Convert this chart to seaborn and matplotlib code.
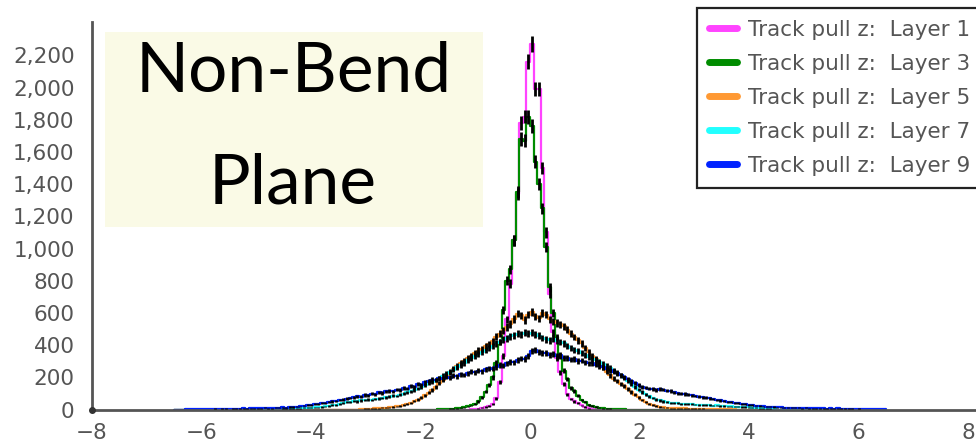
import numpy as np
import pandas as pd
import matplotlib
matplotlib.use("Agg")
import matplotlib.pyplot as plt
import seaborn as sns
from matplotlib.ticker import StrMethodFormatter
from matplotlib.patches import Rectangle
from matplotlib.lines import Line2D

# Common binning for every layer: 200 bins over [-6.5, 6.5]
BIN_LOW, BIN_HIGH, N_BINS = -6.5, 6.5, 200

LAYERS = ["Layer 1", "Layer 3", "Layer 5", "Layer 7", "Layer 9"]
COLORS = ["#ff44ff", "#008c00", "#ff9933", "#22ffff", "#0022ff"]

# Index of the first filled bin of each layer
FIRST_BIN = [83, 74, 52, 30, 3]

layer1_counts = [
    2, 3, 6, 10, 15, 22, 35, 70, 170, 330,
    560, 780, 1050, 1340, 1780, 1820, 2160, 2270, 1990, 1990,
    1500, 1100, 720, 480, 320, 230, 160, 95, 65, 50,
    38, 25, 15, 8, 3,
]

layer3_counts = [
    2, 3, 4, 5, 6, 8, 10, 14, 20, 25,
    35, 50, 75, 110, 150, 200, 290, 420, 620, 800,
    870, 1050, 1350, 1680, 1670, 1815, 1760, 1540, 1400, 1250,
    1010, 760, 600, 450, 330, 240, 190, 135, 115, 85,
    60, 45, 30, 22, 15, 10, 8, 6, 5, 4,
    3, 3, 2,
]

layer5_counts = [
    4, 5, 6, 6, 8, 9, 11, 12,
    14, 16, 19, 22, 28, 34, 42, 52, 62, 74,
    88, 104, 120, 140, 162, 186, 210, 232, 252, 270,
    290, 304, 320, 334, 350, 366, 378, 392, 408, 424,
    452, 470, 492, 512, 530, 562, 596, 584, 556, 590,
    604, 578, 566, 598, 590, 560, 548, 536, 528, 516,
    496, 472, 450, 430, 410, 380, 356, 334, 312, 290,
    262, 236, 212, 192, 176, 160, 144, 126, 108, 92,
    76, 60, 46, 36, 28, 22, 16, 13, 11, 9,
    8, 8, 7, 7, 6, 6, 5, 5, 5, 4,
    4, 4, 3, 3, 3, 2, 2, 2,
]

layer7_counts = [
    5, 6, 5, 7, 8, 8, 10, 11, 12, 14,
    14, 16, 20, 22, 26, 30, 34, 40, 44, 48,
    52, 50, 56, 58, 62, 60, 66, 68, 72, 76,
    80, 86, 84, 92, 98, 106, 112, 120, 130, 140,
    150, 162, 170, 184, 196, 210, 222, 236, 248, 262,
    276, 290, 306, 318, 332, 346, 356, 372, 384, 396,
    410, 420, 434, 442, 454, 460, 470, 466, 478, 472,
    476, 466, 458, 444, 436, 430, 440, 428, 418, 410,
    396, 384, 370, 362, 348, 336, 326, 316, 306, 296,
    284, 270, 258, 244, 228, 212, 196, 178, 158, 140,
    124, 108, 94, 82, 72, 62, 56, 50, 46, 42,
    40, 38, 36, 37, 34, 33, 31, 30, 29, 28,
    26, 24, 25, 22, 21, 20, 19, 18, 17, 16,
    15, 13, 12, 10, 9, 8, 6, 5, 4,
]

layer9_counts = [
    3, 2, 3, 4, 3, 2, 4,
    4, 5, 3, 5, 6, 4, 5, 6, 5, 7,
    6, 8, 7, 9, 8, 10, 7, 9, 11, 10,
    14, 12, 16, 15, 18, 20, 24, 26, 30, 34,
    37, 40, 42, 46, 50, 54, 58, 62, 68, 72,
    76, 82, 80, 90, 88, 98, 94, 106, 102, 112,
    116, 112, 124, 120, 134, 130, 144, 140, 156, 152,
    168, 176, 186, 182, 194, 190, 204, 198, 210, 206,
    218, 214, 226, 234, 230, 242, 238, 250, 256, 252,
    264, 276, 272, 286, 296, 292, 308, 316, 312, 330,
    362, 370, 358, 350, 352, 340, 345, 332, 336, 322,
    318, 310, 312, 300, 304, 292, 286, 290, 278, 270,
    262, 252, 244, 234, 224, 214, 202, 190, 178, 164,
    150, 142, 136, 130, 126, 122, 128, 124, 118, 116,
    106, 100, 98, 96, 92, 88, 84, 80, 76, 74,
    70, 64, 60, 56, 52, 48, 45, 42, 38, 35,
    32, 28, 26, 24, 22, 20, 18, 17, 15, 14,
    13, 12, 12, 11, 10, 11, 9, 10, 9, 8,
    8, 7, 8, 6, 7, 6, 7, 5, 6, 5,
    5, 4, 5, 4, 3, 4, 3, 3, 2, 3,
]

COUNTS = [layer1_counts, layer3_counts, layer5_counts, layer7_counts, layer9_counts]

X_TICKS = [-8, -6, -4, -2, 0, 2, 4, 6, 8]
Y_TICKS = [0, 200, 400, 600, 800, 1000, 1200, 1400, 1600, 1800, 2000, 2200]

# ---------------------------------------------------------------------------
edges = np.linspace(BIN_LOW, BIN_HIGH, N_BINS + 1)
centers = 0.5 * (edges[:-1] + edges[1:])

frames = []
for name, first, counts in zip(LAYERS, FIRST_BIN, COUNTS):
    idx = np.arange(first, first + len(counts))
    frames.append(pd.DataFrame({"layer": name, "pull": centers[idx],
                                "count": np.asarray(counts, float)}))
df = pd.concat(frames, ignore_index=True)

sns.set_theme(style="white")
plt.rcParams["font.family"] = ["DejaVu Sans"]

W, H = 976, 446
fig = plt.figure(figsize=(W / 100, H / 100), dpi=100)
ax = fig.add_axes([92 / W, 1 - 409.5 / H, (W - 92) / W, (409.5 - 22) / H])

for name, color in zip(LAYERS, COLORS):
    sub = df[df["layer"] == name]
    sns.histplot(data=sub, x="pull", weights="count", bins=N_BINS,
                 binrange=(BIN_LOW, BIN_HIGH), element="step", fill=False,
                 color=color, linewidth=1.6, ax=ax)
    ax.errorbar(sub["pull"], sub["count"], yerr=np.sqrt(sub["count"]),
                fmt="none", ecolor="black", elinewidth=2.0, capsize=0,
                zorder=3)

x_min, x_max = -8, 8 + 8 / 54.75
ax.set_xlim(x_min, x_max)
ax.set_ylim(0, 2407)
ax.set_xticks(X_TICKS)
ax.set_yticks(Y_TICKS)
ax.yaxis.set_major_formatter(StrMethodFormatter("{x:,.0f}"))
ax.set_xlabel("")
ax.set_ylabel("")

axis_color = "#555555"
for side in ("top", "right"):
    ax.spines[side].set_visible(False)
for side in ("left", "bottom"):
    ax.spines[side].set_color(axis_color)
    ax.spines[side].set_linewidth(2.0)
ax.tick_params(axis="both", direction="inout", length=13, width=1.6,
               color=axis_color, labelcolor="#555555", labelsize=15.5)
ax.tick_params(axis="y", pad=6)
ax.tick_params(axis="x", pad=3)
ax.plot([x_min], [0], marker="o", ms=4, color="#333333", clip_on=False,
        zorder=5)

# Legend in the upper right corner
handles = [Line2D([], [], color=c, lw=5) for c in COLORS]
labels = [f"Track pull z:  {name}" for name in LAYERS]
leg = fig.legend(handles, labels, loc="upper left",
                 bbox_to_anchor=(697 / W, 1 - 8 / H),
                 bbox_transform=fig.transFigure, fontsize=15.5,
                 frameon=True, fancybox=False, framealpha=1,
                 edgecolor="#222222", borderpad=0.55, labelspacing=0.65,
                 handlelength=1.3, handletextpad=0.5, borderaxespad=0)
leg.get_frame().set_linewidth(1.6)
for t in leg.get_texts():
    t.set_color("#555555")

# Title panel
fig.patches.append(Rectangle((105 / W, 1 - 227 / H), 378 / W, 195 / H,
                             transform=fig.transFigure, facecolor="#fafae6",
                             edgecolor="none", zorder=0))
fig.text(294 / W, 1 - 92 / H, "Non-Bend", ha="center", va="baseline",
         fontsize=50, family="Lato", color="black")
fig.text(293 / W, 1 - 204 / H, "Plane", ha="center", va="baseline",
         fontsize=50, family="Lato", color="black")

fig.savefig("out.png", dpi=100)
